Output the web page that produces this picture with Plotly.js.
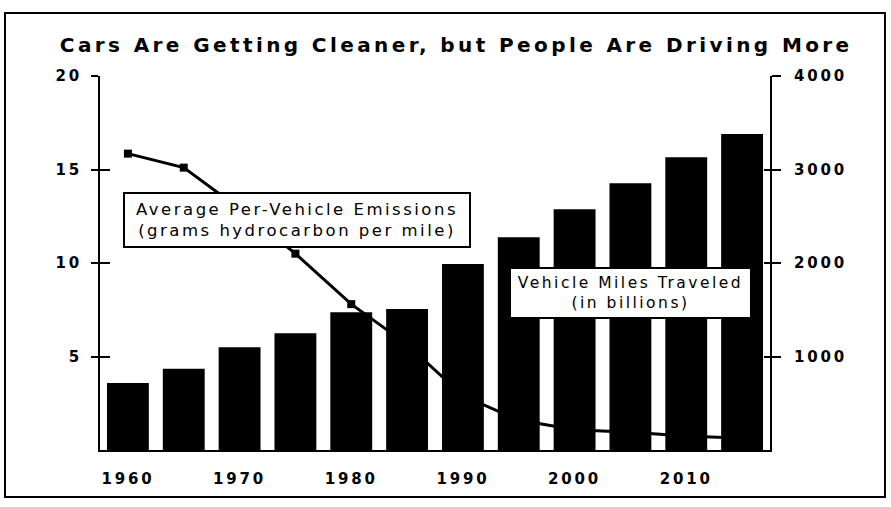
<!DOCTYPE html>
<html>
<head>
<meta charset="utf-8">
<script src="https://cdn.plot.ly/plotly-3.0.1.min.js"></script>
<style>
  html, body { margin: 0; padding: 0; background: #ffffff; }
  #chart { width: 891px; height: 507px; }
  text.gtitle { letter-spacing: 3.4px; }
  .annotation-text { letter-spacing: 2.5px; }
  .xtick text, .ytick text, .y2tick text { letter-spacing: 2.8px; }
</style>
</head>
<body>
<div id="chart"></div>
<script>
// ---- data ----
const years = [1960, 1965, 1970, 1975, 1980, 1985, 1990, 1995, 2000, 2005, 2010, 2015];
const vehicleMiles = [717, 870, 1098, 1248, 1473, 1508, 1989, 2275, 2574, 2852, 3130, 3380];   // billions
const emissions = [15.85, 15.1, 12.9, 10.5, 7.8, 5.65, 2.9, 1.6, 1.08, 0.95, 0.75, 0.63];     // g HC per mile
const xTickYears = [1960, 1970, 1980, 1990, 2000, 2010];
const leftTicks = [5, 10, 15, 20];
const rightTicks = [1000, 2000, 3000, 4000];
const titleText = 'Cars Are Getting Cleaner, but People Are Driving More';
const emissionsLabel = 'Average Per-Vehicle Emissions<br>(grams hydrocarbon per mile)';
const milesLabel = 'Vehicle Miles Traveled<br>(in billions)';

const FONT = 'DejaVu Sans, Verdana, sans-serif';
const tickFont = { family: FONT, size: 15, color: '#000', weight: 'bold' };

const traces = [
  {
    type: 'scatter', mode: 'lines+markers',
    x: years, y: emissions, xaxis: 'x', yaxis: 'y',
    line: { color: '#000', width: 3 },
    marker: { symbol: 'square', size: 8, color: '#000' },
    hoverinfo: 'skip', showlegend: false
  },
  {
    type: 'bar',
    x: years, y: vehicleMiles, xaxis: 'x', yaxis: 'y2',
    marker: { color: '#000', line: { width: 0 } },
    hoverinfo: 'skip', showlegend: false
  },
  { type: 'scatter', x: [], y: [], xaxis: 'x', yaxis: 'y3', hoverinfo: 'skip', showlegend: false },
  { type: 'scatter', x: [], y: [], xaxis: 'x', yaxis: 'y4', hoverinfo: 'skip', showlegend: false }
];

const layout = {
  width: 891, height: 507,
  margin: { l: 100, r: 121, t: 76, b: 57, pad: 0 },
  paper_bgcolor: '#fff', plot_bgcolor: '#fff',
  showlegend: false,
  bargap: 0.25,
  title: {
    text: titleText,
    font: { family: FONT, size: 20, color: '#000', weight: 'bold' },
    xref: 'container', x: 0.512, xanchor: 'center',
    yref: 'container', y: 0.911, yanchor: 'middle'
  },
  xaxis: {
    range: [1957.5, 2017.5],
    tickmode: 'array', tickvals: xTickYears, ticktext: xTickYears.map(String),
    ticks: '', showgrid: false, zeroline: false,
    showline: true, linecolor: '#000', linewidth: 2,
    tickfont: tickFont, ticklabelstandoff: 14
  },
  yaxis: {
    range: [0, 20],
    tickmode: 'array', tickvals: leftTicks, ticktext: leftTicks.map(String),
    ticks: 'outside', ticklen: 7, tickwidth: 2, tickcolor: '#000',
    showgrid: false, zeroline: false,
    showline: true, linecolor: '#000', linewidth: 2,
    tickfont: tickFont, ticklabelstandoff: 6
  },
  yaxis2: {
    overlaying: 'y', side: 'right', anchor: 'x',
    range: [0, 4000],
    tickmode: 'array', tickvals: rightTicks, ticktext: rightTicks.map(String),
    ticks: 'outside', ticklen: 9, tickwidth: 2, tickcolor: '#000',
    showgrid: false, zeroline: false,
    showline: true, linecolor: '#000', linewidth: 2,
    tickfont: tickFont, ticklabelstandoff: 10
  },
  yaxis3: {
    overlaying: 'y', side: 'left', anchor: 'x',
    range: [0, 20],
    tickmode: 'array', tickvals: leftTicks,
    ticks: 'inside', ticklen: 10, tickwidth: 2, tickcolor: '#000',
    showticklabels: false, showgrid: false, zeroline: false, showline: false
  },
  yaxis4: {
    overlaying: 'y', side: 'right', anchor: 'x',
    range: [0, 4000],
    tickmode: 'array', tickvals: rightTicks,
    ticks: 'inside', ticklen: 6, tickwidth: 2, tickcolor: '#000',
    showticklabels: false, showgrid: false, zeroline: false, showline: false
  },
  annotations: [
    {
      xref: 'paper', yref: 'paper', x: 0.294, y: 0.616,
      xanchor: 'center', yanchor: 'middle',
      text: emissionsLabel, showarrow: false,
      bgcolor: '#fff', bordercolor: '#000', borderwidth: 2, borderpad: 3,
      width: 338, height: 46,
      font: { family: FONT, size: 16.5, color: '#000' }
    },
    {
      xref: 'paper', yref: 'paper', x: 0.792, y: 0.42,
      xanchor: 'center', yanchor: 'middle',
      text: milesLabel, showarrow: false,
      bgcolor: '#fff', bordercolor: '#000', borderwidth: 2, borderpad: 3,
      width: 233, height: 42,
      font: { family: FONT, size: 15.5, color: '#000' }
    }
  ],
  shapes: [
    {
      type: 'rect', xref: 'paper', yref: 'paper',
      x0: -0.1418, x1: 1.1716, y0: -0.1257, y1: 1.1684,
      line: { color: '#000', width: 2 }, fillcolor: 'rgba(0,0,0,0)', layer: 'below'
    }
  ]
};

Plotly.newPlot('chart', traces, layout, { staticPlot: true, displayModeBar: false });
</script>
</body>
</html>
